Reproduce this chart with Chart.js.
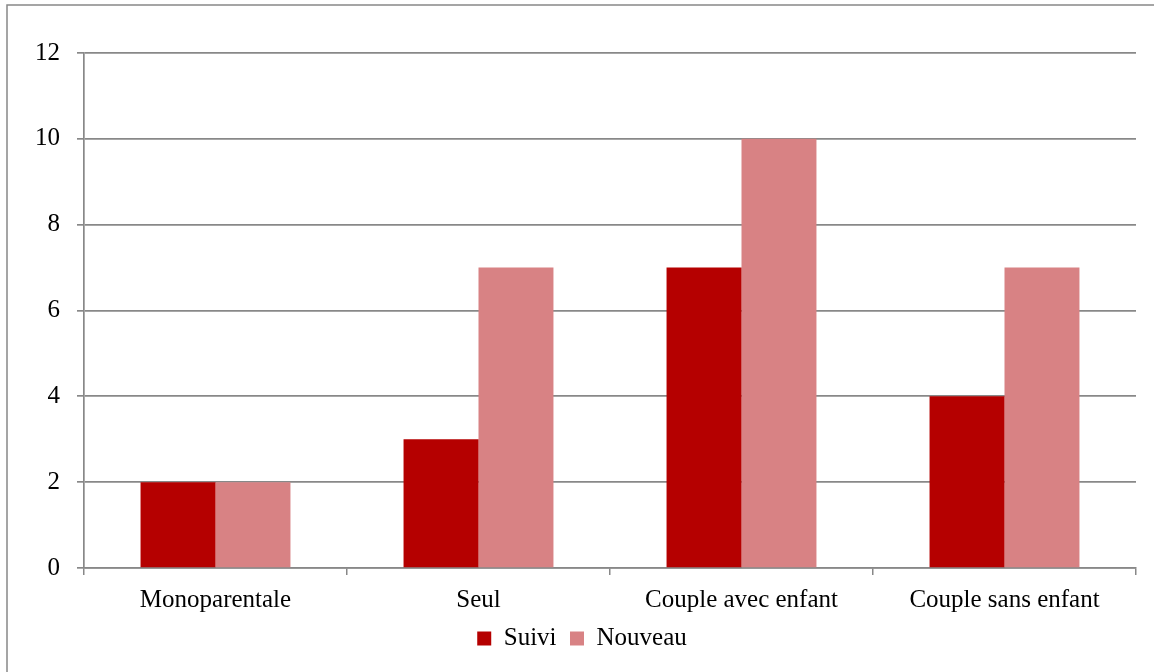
<!DOCTYPE html>
<html>
<head>
<meta charset="utf-8">
<script src="https://cdn.jsdelivr.net/npm/chart.js@4/dist/chart.umd.min.js"></script>
<style>
  html, body { margin: 0; padding: 0; background: #fff; }
  #wrap { width: 1154px; height: 672px; position: relative; }
</style>
</head>
<body>
<div id="wrap"><canvas id="chart" width="1154" height="672"></canvas></div>
<script>
// ── Data ──────────────────────────────────────────────
const categories = ['Monoparentale', 'Seul', 'Couple avec enfant', 'Couple sans enfant'];
const suivi      = [2, 3, 7, 4];
const nouveau    = [2, 7, 10, 7];
const yTicks     = [0, 2, 4, 6, 8, 10, 12];

const FONT = "'Liberation Serif', 'DejaVu Serif', serif";
const GRID = '#888888';

// outer frame of the chart object (left + top edges visible)
const framePlugin = {
  id: 'frame',
  beforeDraw(chart) {
    const ctx = chart.ctx;
    ctx.save();
    ctx.strokeStyle = GRID;
    ctx.lineWidth = 1.5;
    ctx.beginPath();
    ctx.moveTo(7, 672);
    ctx.lineTo(7, 5);
    ctx.lineTo(1154, 5);
    ctx.stroke();
    ctx.restore();
  }
};

new Chart(document.getElementById('chart'), {
  type: 'bar',
  data: {
    labels: categories,
    datasets: [
      { label: 'Suivi',   data: suivi,   backgroundColor: '#b50000' },
      { label: 'Nouveau', data: nouveau, backgroundColor: '#d88284' },
    ],
  },
  options: {
    responsive: false,
    animation: false,
    layout: { padding: { top: 53, right: 18, bottom: 11, left: 28 } },
    datasets: { bar: { categoryPercentage: 0.57, barPercentage: 1.0 } },
    plugins: {
      legend: {
        position: 'bottom',
        labels: {
          color: '#000',
          font: { family: FONT, size: 25 },
          boxWidth: 14,
          boxHeight: 14,
          padding: 1,
          // small gap after every item but the last (legend padding kept tight vertically)
          generateLabels(chart) {
            const items = Chart.defaults.plugins.legend.labels.generateLabels(chart);
            items.forEach((it, i) => { if (i < items.length - 1) it.text += '  '; });
            return items;
          },
        },
      },
      tooltip: { enabled: false },
    },
    scales: {
      x: {
        grid: { drawOnChartArea: false, drawTicks: true, tickLength: 7, color: GRID, lineWidth: 1.5 },
        border: { color: GRID, width: 1.5 },
        ticks: { color: '#000', font: { family: FONT, size: 25 }, padding: 10, maxRotation: 0 },
      },
      y: {
        min: 0,
        max: 12,
        afterFit(scale) { scale.width = 56; },
        afterBuildTicks(scale) { scale.ticks = yTicks.map(v => ({ value: v })); },
        grid: { color: GRID, lineWidth: 1.7, tickLength: 7 },
        border: { color: GRID, width: 1.7 },
        ticks: { color: '#000', font: { family: FONT, size: 25 }, padding: 17 },
      },
    },
  },
  plugins: [framePlugin],
});
</script>
</body>
</html>
